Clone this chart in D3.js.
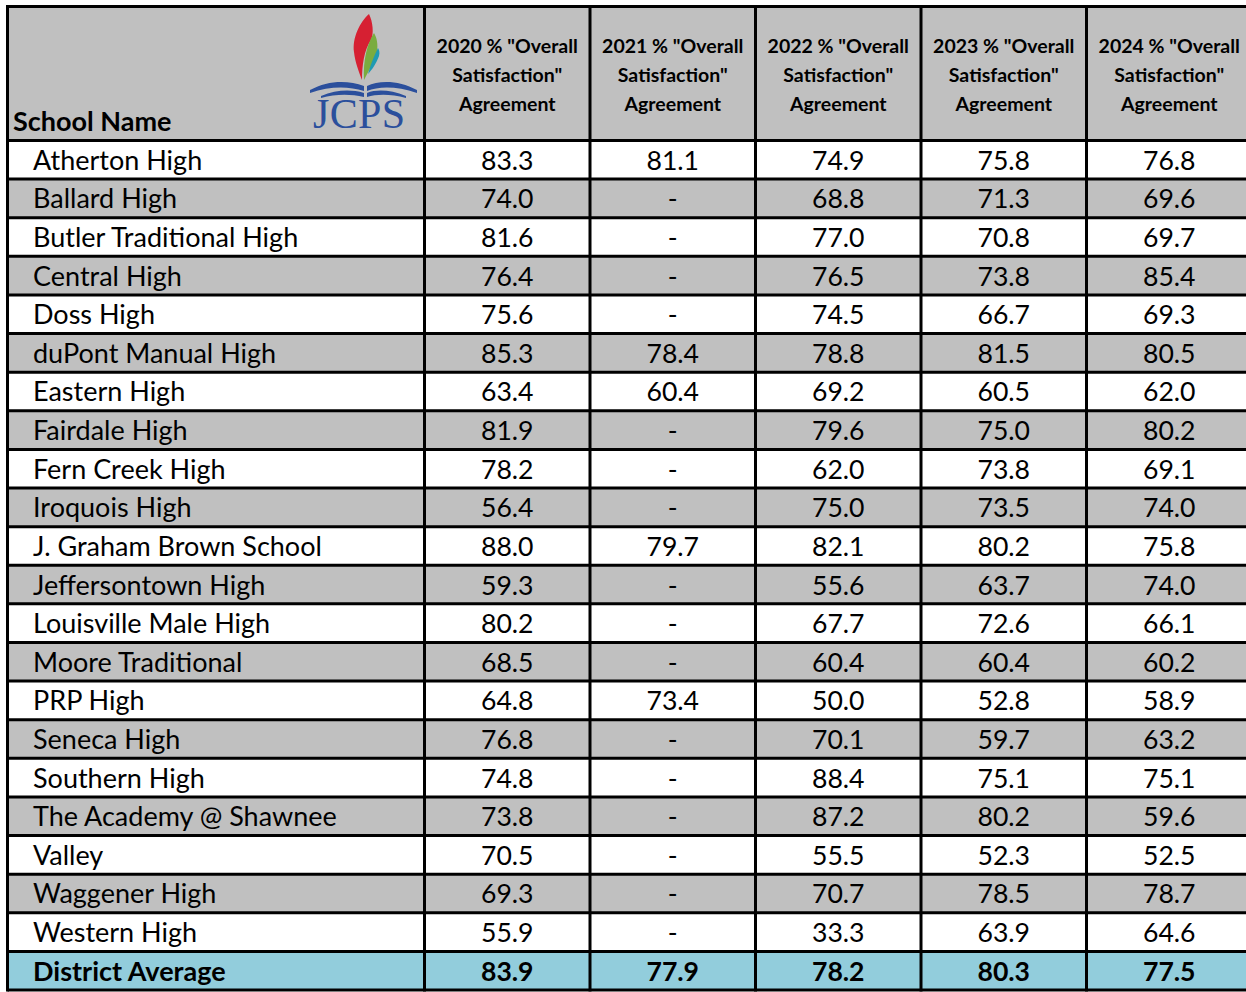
<!DOCTYPE html>
<html>
<head>
<meta charset="utf-8">
<script src="https://cdn.jsdelivr.net/npm/d3@7"></script>
<style>
  body { margin: 0; background: #fff; }
  svg { display: block; }
  text { font-family: Lato, "Open Sans", sans-serif; fill: #000; }
</style>
</head>
<body>
<svg id="chart"></svg>
<script>
const years = ["2020", "2021", "2022", "2023", "2024"];
const schools = [
  "Atherton High", "Ballard High", "Butler Traditional High", "Central High", "Doss High",
  "duPont Manual High", "Eastern High", "Fairdale High", "Fern Creek High", "Iroquois High",
  "J. Graham Brown School", "Jeffersontown High", "Louisville Male High", "Moore Traditional",
  "PRP High", "Seneca High", "Southern High", "The Academy @ Shawnee", "Valley",
  "Waggener High", "Western High"
];
const v2020 = [83.3, 74.0, 81.6, 76.4, 75.6, 85.3, 63.4, 81.9, 78.2, 56.4, 88.0, 59.3, 80.2, 68.5, 64.8, 76.8, 74.8, 73.8, 70.5, 69.3, 55.9];
const v2021 = [81.1, null, null, null, null, 78.4, 60.4, null, null, null, 79.7, null, null, null, 73.4, null, null, null, null, null, null];
const v2022 = [74.9, 68.8, 77.0, 76.5, 74.5, 78.8, 69.2, 79.6, 62.0, 75.0, 82.1, 55.6, 67.7, 60.4, 50.0, 70.1, 88.4, 87.2, 55.5, 70.7, 33.3];
const v2023 = [75.8, 71.3, 70.8, 73.8, 66.7, 81.5, 60.5, 75.0, 73.8, 73.5, 80.2, 63.7, 72.6, 60.4, 52.8, 59.7, 75.1, 80.2, 52.3, 78.5, 63.9];
const v2024 = [76.8, 69.6, 69.7, 85.4, 69.3, 80.5, 62.0, 80.2, 69.1, 74.0, 75.8, 74.0, 66.1, 60.2, 58.9, 63.2, 75.1, 59.6, 52.5, 78.7, 64.6];
const districtLabel = "District Average";
const districtAvg = [83.9, 77.9, 78.2, 80.3, 77.5];

const W = 1246, H = 992;
const fmt = d3.format(".1f");
const seriesByYear = [v2020, v2021, v2022, v2023, v2024];

const svg = d3.select("#chart").attr("width", W).attr("height", H);

// Geometry
const tblLeft = 7.5, tblTop = 6.5, headerBottom = 140.5, tblBottom = 990;
const nameColRight = 424.5, yearColW = 165.5;

const rowLabels = schools.concat([districtLabel]);
const y = d3.scaleBand().domain(rowLabels).range([headerBottom, tblBottom]);
const x = d3.scaleBand().domain(years).range([nameColRight, nameColRight + yearColW * years.length]);

const rows = rowLabels.map((name, i) => ({
  name,
  district: i === schools.length,
  values: i === schools.length ? districtAvg : seriesByYear.map(s => s[i]),
  fill: i === schools.length ? "#92cddc" : (i % 2 === 0 ? "#ffffff" : "#c0c0c0")
}));

// Header background
svg.append("rect")
  .attr("x", tblLeft).attr("y", tblTop)
  .attr("width", W - tblLeft).attr("height", headerBottom - tblTop)
  .attr("fill", "#c0c0c0");

// Row backgrounds
svg.append("g").selectAll("rect")
  .data(rows)
  .join("rect")
  .attr("x", tblLeft)
  .attr("y", d => y(d.name))
  .attr("width", W - tblLeft)
  .attr("height", y.bandwidth())
  .attr("fill", d => d.fill);

// Header text
svg.append("text")
  .attr("x", 13).attr("y", 131)
  .attr("font-size", 27).attr("font-weight", 700)
  .text("School Name");

const head = svg.append("g").selectAll("text")
  .data(years)
  .join("text")
  .attr("text-anchor", "middle")
  .attr("font-size", 19.5)
  .attr("font-weight", 700);
head.append("tspan").attr("x", d => x(d) + x.bandwidth() / 2).attr("y", 53).text(d => `${d} % "Overall`);
head.append("tspan").attr("x", d => x(d) + x.bandwidth() / 2).attr("y", 82).text('Satisfaction"');
head.append("tspan").attr("x", d => x(d) + x.bandwidth() / 2).attr("y", 111).text("Agreement");

// JCPS logo
const logo = svg.append("g");
logo.append("path")
  .attr("d", "M369,14 C360,22 352,38 354,52 C355,62 359,72 362,80 C362,66 364,50 371,40 C374,34 373,22 369,14 Z")
  .attr("fill", "#d62032");
logo.append("path")
  .attr("d", "M374,33 C367,44 363,60 364,80 C368,72 374,62 377,52 C378,44 377,38 374,33 Z")
  .attr("fill", "#7aac3f");
logo.append("path")
  .attr("d", "M378,48 C374,56 370,66 368,74 C372,70 377,62 379,56 C380,52 379,50 378,48 Z")
  .attr("fill", "#1f9ab2");
logo.append("path")
  .attr("d", "M310,90 C328,80 348,80 364,86 L364,91 C348,86 330,86 310,93 Z M321,96 C336,90 350,89 364,93 L364,97 C350,94 336,94 321,98 Z")
  .attr("fill", "#2b4f9c");
logo.append("path")
  .attr("d", "M417,90 C399,80 379,80 367,86 L367,91 C379,86 397,86 417,93 Z M406,96 C391,90 377,89 367,93 L367,97 C377,94 391,94 406,98 Z")
  .attr("fill", "#2b4f9c");
logo.append("text")
  .attr("x", 359).attr("y", 128)
  .attr("text-anchor", "middle")
  .attr("font-size", 42)
  .style("fill", "#2b4f9c")
  .style("font-family", '"Liberation Serif", serif')
  .attr("textLength", 92)
  .text("JCPS");

// Body text
const rowG = svg.append("g").selectAll("g")
  .data(rows)
  .join("g")
  .attr("transform", d => `translate(0,${y(d.name) + y.bandwidth() / 2 + 10})`);

rowG.append("text")
  .attr("x", 33)
  .attr("font-size", 27)
  .attr("font-weight", d => d.district ? 700 : 400)
  .text(d => d.name);

rowG.selectAll("text.val")
  .data(d => d.values.map((v, j) => ({ v, year: years[j], district: d.district })))
  .join("text")
  .attr("class", "val")
  .attr("x", d => x(d.year) + x.bandwidth() / 2)
  .attr("text-anchor", "middle")
  .attr("font-size", 26.6)
  .attr("font-weight", d => d.district ? 700 : 400)
  .text(d => d.v == null ? "-" : fmt(d.v));

// Grid lines
const grid = svg.append("g").attr("stroke", "#000").attr("stroke-width", 3);
grid.append("line").attr("x1", tblLeft - 1.5).attr("x2", W).attr("y1", tblTop).attr("y2", tblTop);
grid.selectAll("line.h")
  .data([headerBottom].concat(rowLabels.map(r => y(r) + y.bandwidth())))
  .join("line")
  .attr("class", "h")
  .attr("x1", tblLeft).attr("x2", W)
  .attr("y1", d => d).attr("y2", d => d);
grid.selectAll("line.v")
  .data([tblLeft, nameColRight].concat(years.map(yr => x(yr) + x.bandwidth())))
  .join("line")
  .attr("class", "v")
  .attr("x1", d => d).attr("x2", d => d)
  .attr("y1", tblTop).attr("y2", tblBottom + 1.5);
</script>
</body>
</html>
